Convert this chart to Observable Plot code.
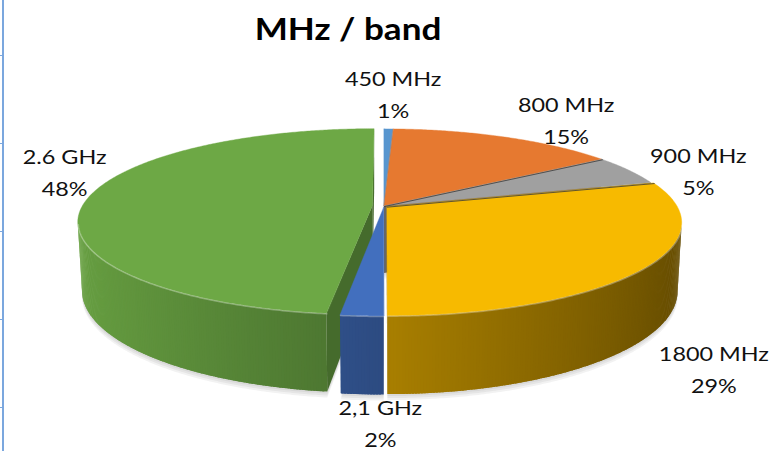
<!DOCTYPE html>
<html><head><meta charset="utf-8">
<script src="https://cdn.jsdelivr.net/npm/d3@7"></script>
<script src="https://cdn.jsdelivr.net/npm/@observablehq/plot@0.6"></script>
<style>
html,body{margin:0;padding:0;background:#fff;}
#wrap{position:relative;width:773px;height:451px;overflow:hidden;background:#fff;}
#edge{position:absolute;left:2px;top:0;width:2px;height:451px;background:#7ba7de;}
#ticks{position:absolute;left:0;top:0;width:3px;height:451px;background:repeating-linear-gradient(to bottom,transparent 0,transparent 55px,#7ba7de 55px,#7ba7de 56px,transparent 56px,transparent 88px);}
</style>
</head><body><div id="wrap"></div>
<script>
// ---- data ----
const title = "MHz / band";
const bands = ["450 MHz", "800 MHz", "900 MHz", "1800 MHz", "2,1 GHz", "2.6 GHz"];
const shares = [0.6, 14.8, 5.2, 29.4, 2.0, 48.0];
// ---- styles ----
const colors = ["#5b9bd5", "#ed7d31", "#a5a5a5", "#ffc000", "#4472c4", "#70ad47"];
const explode = [0, 0, 0, 0.012, 0.01, 0.04];
const darkEdge = ["900 MHz", "1800 MHz"];
const labelNudge = [[4, -38], [60, -20], [69, -2], [68, 99], [18, 104], [-22, -31]];

// ---- 3D view ----
const view = {cx: 384, cy: 206, D: 5.59, tilt: Math.asin(0.311), f: 1622, depth: 0.245};
const sT = Math.sin(view.tilt), cT = Math.cos(view.tilt);
function project(X, Y, Z) {
  const yc = Y * cT - Z * sT, zc = view.D - (Y * sT + Z * cT);
  return {x: view.cx + view.f * X / zc, y: view.cy - view.f * yc / zc, zc};
}
const cam = {X: 0, Z: view.D * cT};
function shade(c, k) { const o = d3.rgb(c); return d3.rgb(o.r * k, o.g * k, o.b * k).formatHex(); }

const total = d3.sum(shares);
let acc = 0;
const slices = bands.map((band, i) => {
  const a0 = acc / total * 2 * Math.PI; acc += shares[i]; const a1 = acc / total * 2 * Math.PI;
  const am = (a0 + a1) / 2;
  return {band, i, a0, a1, am, ex: explode[i] * Math.sin(am), ez: -explode[i] * Math.cos(am),
          color: colors[i], pct: Math.round(shares[i] / total * 100)};
});
const ground = (s, a, r = 1) => [r * Math.sin(a) + s.ex, -r * Math.cos(a) + s.ez];
const H = -view.depth;
const step = Math.PI / 360;

// soft shadow: the bottom disc of each slice
const shadowRows = [];
for (const s of slices) {
  const c = project(s.ex, H, s.ez);
  const n = Math.max(2, Math.ceil((s.a1 - s.a0) / step));
  for (let j = 0; j <= n; j++) {
    const a = s.a0 + j * (s.a1 - s.a0) / n, [gx, gz] = ground(s, a), p = project(gx, H, gz);
    shadowRows.push({id: s.band, x1: c.x, y1: c.y, x2: p.x, y2: p.y});
  }
}

// side polygons (outer walls + radial faces), painter-sorted
const polys = [];
function wallVisible(s, m) {
  const [px, pz] = ground(s, m);
  return Math.sin(m) * (cam.X - px) + (-Math.cos(m)) * (cam.Z - pz) > 0;
}
for (const s of slices) {
  const n = Math.max(1, Math.ceil((s.a1 - s.a0) / step));
  const da = (s.a1 - s.a0) / n;
  for (let j = 0; j < n; j++) {
    const a = s.a0 + j * da, m = a + da / 2;
    const b = Math.min(s.a1, a + da * 1.8);
    if (!wallVisible(s, m)) continue;
    const [ax, az] = ground(s, a), [bx, bz] = ground(s, b), [mx, mz] = ground(s, m);
    const k = 0.66 - 0.27 * Math.sin(m);
    polys.push({depth: project(mx, H / 2, mz).zc, fill: shade(s.color, k),
      pts: [[project(ax, H, az), project(ax, 0, az)], [project(bx, H, bz), project(bx, 0, bz)]]});
  }
  for (const [a, nx, nz] of [[s.a0, -Math.cos(s.a0), -Math.sin(s.a0)], [s.a1, Math.cos(s.a1), Math.sin(s.a1)]]) {
    const [ex, ez] = ground(s, a);
    const mx = (ex + s.ex) / 2, mz = (ez + s.ez) / 2;
    if (nx * (cam.X - mx) + nz * (cam.Z - mz) <= 0) continue;
    polys.push({depth: project(mx, H / 2, mz).zc, fill: shade(s.color, 0.62),
      pts: [[project(s.ex, H, s.ez), project(s.ex, 0, s.ez)], [project(ex, H, ez), project(ex, 0, ez)]]});
  }
}
polys.sort((p, q) => q.depth - p.depth);
const sideRows = [];
polys.forEach((p, id) => p.pts.forEach(([bot, top]) =>
  sideRows.push({id, fill: p.fill, x1: bot.x, y1: bot.y, x2: top.x, y2: top.y})));

// top faces
const topRows = [], rimRows = [], edgeRows = [];
for (const s of slices) {
  const c = project(s.ex, 0, s.ez);
  const n = Math.max(2, Math.ceil((s.a1 - s.a0) / step));
  for (let j = 0; j <= n; j++) {
    const a = s.a0 + j * (s.a1 - s.a0) / n;
    const [gx, gz] = ground(s, a);
    const p = project(gx, 0, gz);
    topRows.push({id: s.band, fill: shade(s.color, 0.97), x1: c.x, y1: c.y, x2: p.x, y2: p.y});
    if (wallVisible(s, a)) rimRows.push({id: s.band, x: p.x, y: p.y});
  }
  if (darkEdge.includes(s.band)) {
    const [gx, gz] = ground(s, s.a0), p = project(gx, 0, gz);
    edgeRows.push({id: s.band, x: c.x, y: c.y}, {id: s.band, x: p.x, y: p.y});
  }
}

// labels
const labelRows = slices.map((s, i) => {
  const [gx, gz] = ground(s, s.am), p = project(gx, 0, gz);
  return {x: p.x + labelNudge[i][0], y: p.y + labelNudge[i][1], text: `${s.band}\n${s.pct}%`};
});

const shadow = dy => Plot.area(shadowRows, {x1: "x1", y1: "y1", x2: "x2", y2: "y2", z: "id", fill: "#000", fillOpacity: 0.05, dy, curve: "linear"});
const chart = Plot.plot({
  width: 773, height: 451, margin: 0,
  x: {type: "linear", domain: [0, 773], range: [0, 773], axis: null},
  y: {type: "linear", domain: [0, 451], range: [0, 451], axis: null},
  color: {type: "identity"},
  style: {background: "white", fontFamily: "Lato, sans-serif"},
  marks: [
    shadow(2), shadow(4), shadow(6),
    Plot.area(sideRows, {x1: "x1", y1: "y1", x2: "x2", y2: "y2", z: "id", fill: "fill", curve: "linear"}),
    Plot.area(topRows, {x1: "x1", y1: "y1", x2: "x2", y2: "y2", z: "id", fill: "fill", stroke: "fill", strokeWidth: 0.4, curve: "linear"}),
    Plot.line(rimRows, {x: "x", y: "y", z: "id", stroke: "#ffffff", strokeOpacity: 0.3, strokeWidth: 1.5}),
    Plot.line(edgeRows, {x: "x", y: "y", z: "id", stroke: "#3b3b3b", strokeWidth: 0.8}),
    Plot.text(labelRows, {x: "x", y: "y", text: "text", fontSize: 20, lineHeight: 1.6, fill: "#111"}),
    Plot.text([title], {frameAnchor: "top", dx: -39, dy: 18, lineAnchor: "top", fontSize: 30, fontWeight: "bold", fill: "#000"})
  ]
});
const wrap = document.getElementById("wrap");
wrap.appendChild(chart);
const e1 = document.createElement("div"); e1.id = "edge"; wrap.appendChild(e1);
const e2 = document.createElement("div"); e2.id = "ticks"; wrap.appendChild(e2);
// widen glyphs horizontally about each text's own centre
const sx = 1.17;
for (const t of chart.querySelectorAll("text")) {
  const tr = t.getAttribute("transform") || "";
  const bb = t.getBBox();
  const cx = bb.x + bb.width / 2;
  t.setAttribute("transform", `${tr} translate(${cx},0) scale(${sx},1) translate(${-cx},0)`);
}
</script></body></html>
